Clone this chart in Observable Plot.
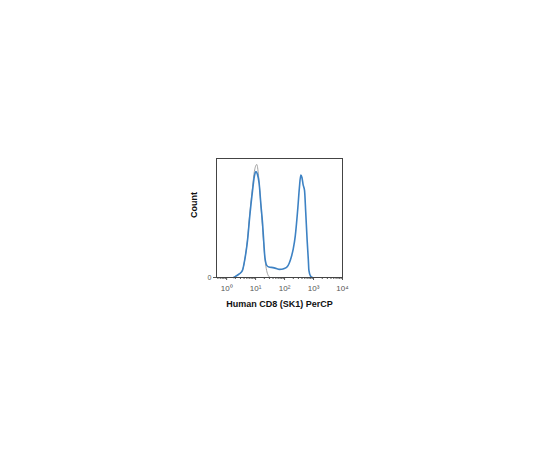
<!DOCTYPE html>
<html>
<head>
<meta charset="utf-8">
<script src="https://cdn.jsdelivr.net/npm/d3@7"></script>
<script src="https://cdn.jsdelivr.net/npm/@observablehq/plot@0.6"></script>
<style>
  html, body { margin: 0; padding: 0; background: #fff; }
  #chart { width: 540px; height: 450px; }
</style>
</head>
<body>
<div id="chart"></div>
<script>
// log10 intensity positions and counts (% of max)
const stainedLog = [0.24,0.31,0.435,0.546,0.626,0.72,0.80,0.894,0.957,1.009,1.06,1.123,1.18,1.242,1.287,1.32,1.39,1.46,1.6,1.74,1.81,1.9,1.99,2.09,2.16,2.23,2.30,2.37,2.46,2.51,2.56,2.6,2.64,2.69,2.73,2.78,2.82,2.84,2.90,2.96];
const stainedCount = [0,1,3,6,15,31,52,73,85,89,87,79,62,45,28,17,10,8.8,8.3,7.4,6.8,6.9,7.5,9,12,17,24,35,59,75,86,84,78,73,55,31,15,6,1,0];
const controlLog = [0.24,0.31,0.435,0.546,0.626,0.72,0.80,0.894,0.957,1.04,1.1,1.16,1.22,1.28,1.33,1.38,1.43,1.5];
const controlCount = [0,1,3,6,15,32,54,76,89,95,86,68,48,28,14,6,2,0];
const xTicks = [1, 10, 100, 1000, 10000];
const xTickLabels = ["10⁰", "10¹", "10²", "10³", "10⁴"];
const yTicks = [0];
const yTickLabels = ["0"];
const xLabel = "Human CD8 (SK1) PerCP";
const yLabel = "Count";

const stained = stainedLog.map((l, i) => ({x: Math.pow(10, l), y: stainedCount[i]}));
const control = controlLog.map((l, i) => ({x: Math.pow(10, l), y: controlCount[i]}));
const minor = [];
for (let d = -1; d < 4; d++) for (let m = 2; m <= 9; m++) {
  const v = m * Math.pow(10, d);
  if (v > 0.45 && v < 10000) minor.push(v);
}

const chart = Plot.plot({
  width: 540,
  height: 450,
  marginLeft: 216,
  marginRight: 198,
  marginTop: 158,
  marginBottom: 173,
  style: {fontFamily: "Liberation Sans, Arial, sans-serif", background: "#fff"},
  x: {type: "log", domain: [Math.pow(10, -0.35), 10000]},
  y: {domain: [0, 100]},
  marks: [
    Plot.axisX({ticks: xTicks, tickFormat: (d) => xTickLabels[xTicks.indexOf(d)], tickSize: 3, tickPadding: 5, fontSize: 8, color: "#555", label: null}),
    Plot.axisX({ticks: minor, tickFormat: () => "", tickSize: 2, color: "#555", label: null}),
    Plot.axisY({ticks: yTicks, tickFormat: (d) => yTickLabels[yTicks.indexOf(d)], tickSize: 3, tickPadding: 2, fontSize: 7, color: "#555", label: null}),
    Plot.line(control, {x: "x", y: "y", stroke: "#999", strokeWidth: 0.9, curve: "monotone-x"}),
    Plot.line(stained, {x: "x", y: "y", stroke: "#3d82c4", strokeWidth: 1.6, curve: "monotone-x"}),
    Plot.frame({stroke: "#444", strokeWidth: 1}),
    Plot.text([xLabel], {frameAnchor: "bottom", dy: 29, text: d => d, fontSize: 9, fontWeight: "bold", fill: "#111"}),
    Plot.text([yLabel], {frameAnchor: "left", dx: -22, rotate: -90, text: d => d, fontSize: 9, fontWeight: "bold", fill: "#111"})
  ]
});
document.getElementById("chart").appendChild(chart);
</script>
</body>
</html>
